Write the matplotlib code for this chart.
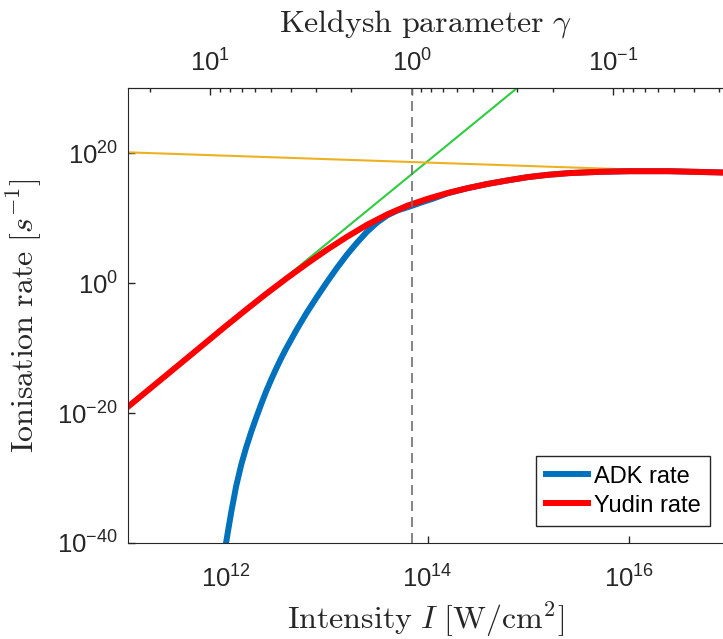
import numpy as np
import matplotlib
matplotlib.use('Agg')
import matplotlib.pyplot as plt
from matplotlib.ticker import FixedLocator, NullLocator, LogLocator, NullFormatter

# values: log10 of intensity [W/cm^2] and log10 of rate [1/s]
adk_logI = [11.97, 12.00, 12.05, 12.10, 12.15, 12.20, 12.25, 12.30, 12.35, 12.40,
            12.45, 12.50, 12.55, 12.60, 12.70, 12.80, 12.90, 13.00, 13.10, 13.20,
            13.30, 13.40, 13.50, 13.60, 13.70, 13.84, 13.95, 14.05, 14.20, 14.40,
            14.60, 14.80, 15.00, 15.20, 15.40, 15.70, 16.00, 16.40, 16.93]
adk_logW = [-43.0, -40.0, -35.4, -31.3, -28.0, -25.3, -22.9, -20.7, -18.6, -16.6,
            -14.8, -13.1, -11.5, -10.0, -7.2, -4.6, -2.2, 0.1, 2.3, 4.35,
            6.2, 7.9, 9.3, 10.4, 11.15, 11.85, 12.45, 12.95, 13.8, 14.6,
            15.25, 15.8, 16.3, 16.65, 16.9, 17.1, 17.2, 17.2, 17.0]

yudin_logI = [11.03, 11.50, 12.00, 12.20, 12.40, 12.60, 12.80, 13.00, 13.20, 13.40,
              13.60, 13.80, 14.00, 14.20, 14.40, 14.60, 14.80, 15.00, 15.20, 15.40,
              15.70, 16.00, 16.40, 16.93]
yudin_logW = [-19.0, -13.0, -6.6, -4.1, -1.65, 0.7, 2.95, 5.1, 7.1, 8.95,
              10.55, 11.9, 12.95, 13.85, 14.6, 15.25, 15.8, 16.3, 16.65, 16.9,
              17.1, 17.2, 17.2, 17.0]

# multiphoton limit (green) and tunnelling limit (orange)
mpi_logI = [11.0, 15.0]
mpi_logW = [-19.3, 31.4]
tun_logI = [11.03, 12.73, 13.96, 14.72, 15.38, 16.04, 16.93]
tun_logW = [20.1, 19.2, 18.55, 18.15, 17.8, 17.45, 17.0]

I_gamma1 = 7.0e13  # intensity where the Keldysh parameter is 1

xticks = [1e12, 1e14, 1e16]
yticks = [1e-40, 1e-20, 1e0, 1e20]
gamma_ticks = [10, 1, 0.1]

plt.rcParams['font.family'] = ['Liberation Sans', 'DejaVu Sans']
plt.rcParams['axes.unicode_minus'] = False

dark = '#262626'
fig = plt.figure(figsize=(7.23, 6.39), dpi=100)
ax = fig.add_axes([128/723, 1 - 543/639, 595/723, 455/639])

ax.plot(10**np.array(mpi_logI), 10**np.array(mpi_logW), color='#2ECC40', lw=1.5)
ax.plot(10**np.array(tun_logI), 10**np.array(tun_logW), color='#EDB120', lw=1.5)
ax.plot(10**np.array(adk_logI), 10**np.array(adk_logW), color='#0072BD', lw=4.3,
        label='ADK rate')
ax.plot(10**np.array(yudin_logI), 10**np.array(yudin_logW), color='#FF0000', lw=4.3,
        label='Yudin rate')
ax.axvline(I_gamma1, color='#707070', lw=1.2, dashes=(6, 3.6))

ax.set_xscale('log')
ax.set_yscale('log')
ax.set_xlim(10**11.027, 10**16.933)
ax.set_ylim(1e-40, 1e30)
ax.xaxis.set_major_locator(FixedLocator(xticks))
ax.yaxis.set_major_locator(FixedLocator(yticks))
ax.xaxis.set_minor_locator(NullLocator())
ax.yaxis.set_minor_locator(NullLocator())
ax.tick_params(direction='in', length=5, width=1, colors=dark, labelsize=18.5)
ax.tick_params(axis='x', pad=16)
ax.tick_params(axis='y', pad=7)
ax.spines['right'].set_visible(False)
for s in ['left', 'bottom', 'top']:
    ax.spines[s].set_color(dark)

ax.set_xlabel(r'$\mathrm{Intensity}\ I\ [\mathrm{W/cm^2}]$', fontsize=23,
              math_fontfamily='cm', color=dark)
ax.xaxis.set_label_coords(0.5, -0.124)
ax.set_ylabel(r'$\mathrm{Ionisation\ rate}\ [s^{-1}]$', fontsize=23,
              math_fontfamily='cm', color=dark)
ax.yaxis.set_label_coords(-0.141, 0.5)


def to_gamma(I):
    I = np.asarray(I, dtype=float)
    with np.errstate(divide='ignore', invalid='ignore'):
        return np.sqrt(I_gamma1 / I)


def to_intensity(g):
    g = np.asarray(g, dtype=float)
    with np.errstate(divide='ignore', invalid='ignore'):
        return I_gamma1 / g**2


secax = ax.secondary_xaxis('top', functions=(to_gamma, to_intensity))
secax.xaxis.set_major_locator(FixedLocator(gamma_ticks))
secax.xaxis.set_minor_locator(LogLocator(base=10, subs=np.arange(2, 10)))
secax.xaxis.set_minor_formatter(NullFormatter())
secax.tick_params(which='major', direction='in', length=5, width=1, colors=dark,
                  labelsize=18.5, pad=8)
secax.tick_params(which='minor', direction='in', length=3, width=1, colors=dark)
secax.spines['top'].set_color(dark)
secax.set_xlabel(r'$\mathrm{Keldysh\ parameter}\ \gamma$', fontsize=23,
                 math_fontfamily='cm', color=dark)
secax.xaxis.set_label_coords(0.5, 1.124, transform=ax.transAxes)

leg = ax.legend(loc='lower right', bbox_to_anchor=(0.978, 0.037), borderaxespad=0,
                fontsize=17, handlelength=1.78, handletextpad=0.25,
                labelspacing=0.3, borderpad=0.4, fancybox=False, framealpha=1)
leg.get_frame().set_edgecolor(dark)
leg.get_frame().set_linewidth(1)

fig.savefig('out.png', dpi=100)
